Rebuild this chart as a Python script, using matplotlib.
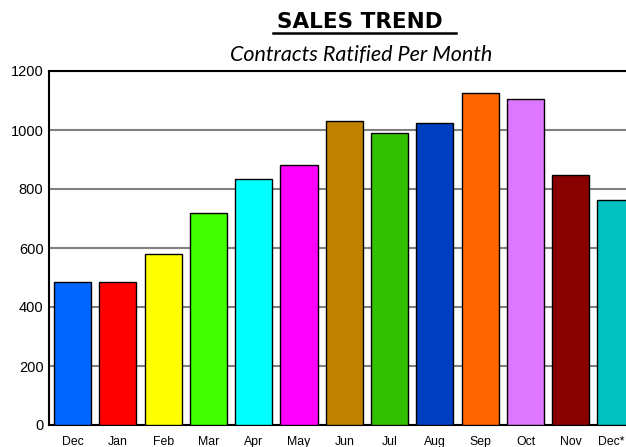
import matplotlib
matplotlib.use("Agg")
import matplotlib.pyplot as plt
from matplotlib.lines import Line2D
from matplotlib.transforms import ScaledTranslation

months = ["Dec", "Jan", "Feb", "Mar", "Apr", "May", "Jun", "Jul", "Aug", "Sep", "Oct", "Nov", "Dec*"]
contracts = [485, 485, 580, 719, 834, 881, 1031, 990, 1024, 1125, 1105, 847, 763]
colors = ["#0066ff", "#ff0000", "#ffff00", "#44ff00", "#00ffff", "#ff00ff", "#c08000",
          "#33c000", "#0040c0", "#ff6600", "#dd77ff", "#880000", "#00c0c0"]

fig = plt.figure(figsize=(6.26, 4.47), dpi=100)
ax = fig.add_axes([49 / 626, 1 - 425 / 447, 577 / 626, 354 / 447])

x = range(len(months))
ax.bar(x, contracts, width=0.82, color=colors, edgecolor="black", linewidth=1, zorder=3)

ax.set_xlim(-0.52, 12.22)
ax.set_ylim(0, 1200)
ax.set_yticks(range(0, 1201, 200))
ax.set_xticks(list(x))
ax.set_xticklabels(months, family="Liberation Sans", fontsize=8.8)
for lbl in ax.get_yticklabels():
    lbl.set_family("Liberation Sans")
    lbl.set_fontsize(10.5)
ax.tick_params(length=0, pad=4)
ax.tick_params(axis="x", pad=8)
ax.grid(axis="y", color="#808080", linewidth=1.5, zorder=0)
ax.set_axisbelow(True)
ax.spines["right"].set_visible(False)
for side in ["left", "bottom", "top"]:
    ax.spines[side].set_linewidth(1.5)
    ax.spines[side].set_color("black")

# last label sits against the right edge, nudge it in a little
last = ax.get_xticklabels()[-1]
last.set_transform(last.get_transform() + ScaledTranslation(-5 / 100, 0, fig.dpi_scale_trans))

# title with underline, subtitle in italics
fig.text(360 / 626, 1 - 22 / 447, "SALES TREND", ha="center", va="center",
         family="DejaVu Sans", fontweight="bold", fontsize=15.5)
fig.add_artist(Line2D([273 / 626, 456 / 626], [1 - 33 / 447, 1 - 33 / 447],
                      color="black", linewidth=1.8, transform=fig.transFigure))
fig.text(361 / 626, 1 - 55 / 447, "Contracts Ratified Per Month", ha="center", va="center",
         family="Lato", style="italic", fontsize=15.5)

fig.savefig("out.png", dpi=100)
